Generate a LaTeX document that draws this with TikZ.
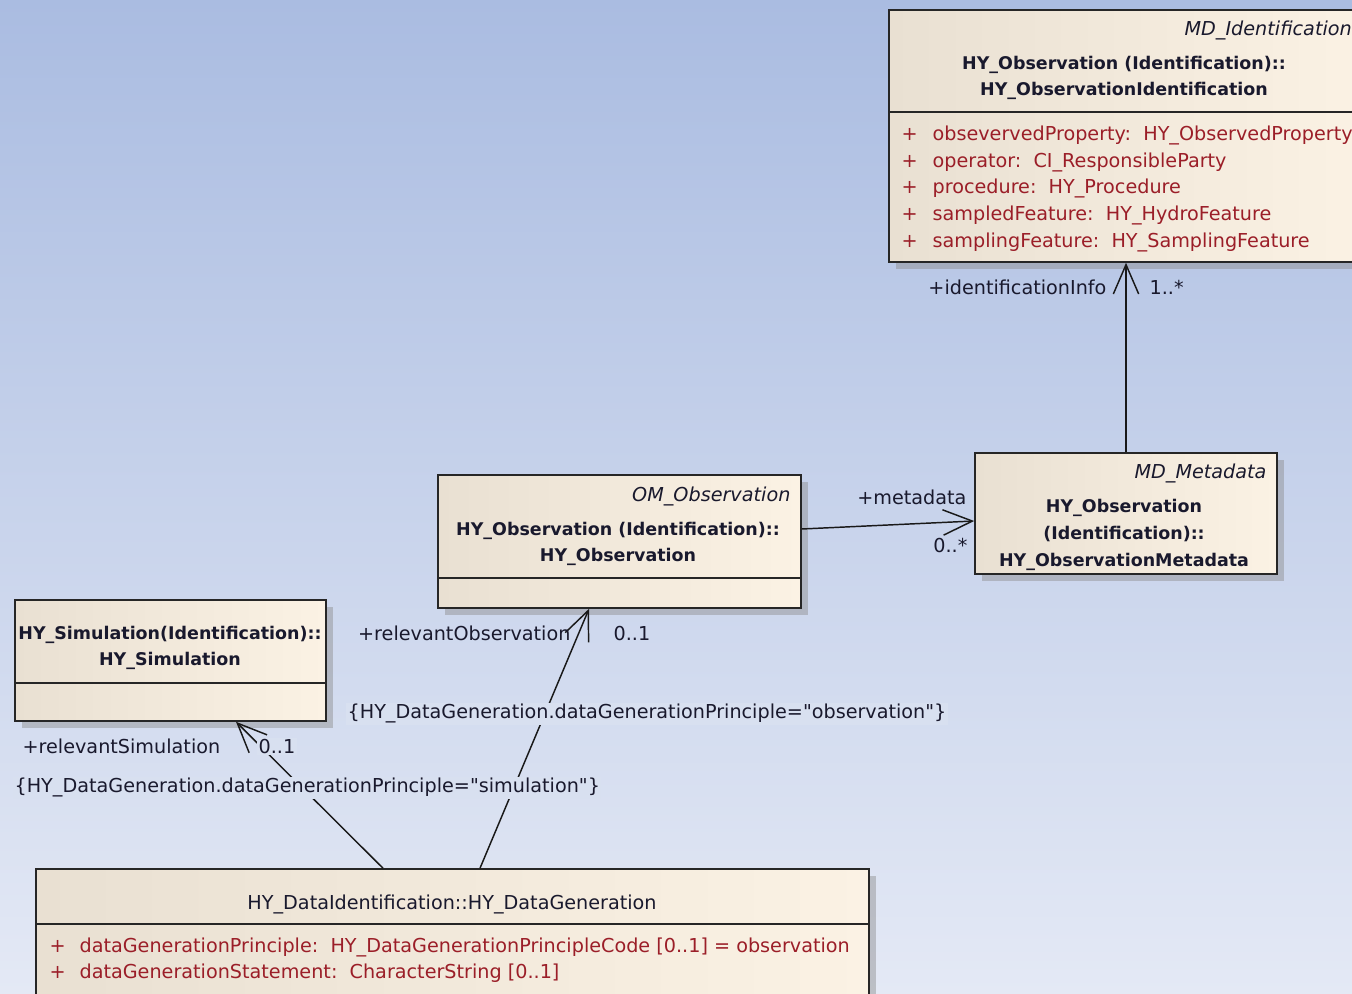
\documentclass[tikz,border=0pt]{standalone}
\usepackage{fontspec}
\setmainfont{DejaVu Sans}[Ligatures=TeXOff]
\usepackage{xcolor}
\usetikzlibrary{arrows.meta,shadows,fit,positioning}

\definecolor{bgtop}{RGB}{170,188,225}
\definecolor{bgbot}{RGB}{228,233,245}
\definecolor{bgmid}{RGB}{216,224,240}
\definecolor{boxleft}{RGB}{233,224,210}
\definecolor{boxright}{RGB}{251,242,228}
\definecolor{umltext}{RGB}{25,25,45}
\definecolor{umlattr}{RGB}{155,30,40}

\tikzset{
  classbox/.style={draw=black!85, line width=1.2pt, inner sep=0pt,
    left color=boxleft, right color=boxright,
    drop shadow={shadow xshift=5pt, shadow yshift=-5pt, fill=black!45, opacity=.45}},
  sep/.style={draw=black!85, line width=1.2pt},
  lbl/.style={font=\fontsize{14.4}{17}\selectfont, text=umltext, inner sep=1pt, yshift=-3pt},
  stereo/.style={lbl, font=\fontsize{14.4}{17}\selectfont\itshape},
  ttl/.style={font=\fontsize{13.1}{20}\selectfont\bfseries, text=umltext, align=center, yshift=-3pt},
  attr/.style={lbl, text=umlattr, anchor=mid west},
  cover/.style={fill=bgmid},
  assoc/.style={draw=black!90, line width=1.1pt, -{Straight Barb[length=22pt,width=19pt]}}
}

\begin{document}
\begin{tikzpicture}[x=0.75pt,y=-0.75pt]
% Hintergrund
\clip (0,0) rectangle (1352,994);
\shade[top color=bgtop, bottom color=bgbot] (0,0) rectangle (1352,994);

% Klassen
\node[classbox, fit={(889,10) (1365,262)}] (ident) {};
\node[classbox, fit={(438,475) (801,608)}] (obs) {};
\node[classbox, fit={(975,453) (1277,574)}] (meta) {};
\node[classbox, fit={(15,600) (326,721)}] (sim) {};
\node[classbox, fit={(36,869) (869,1010)}] (gen) {};

\draw[sep] (ident.west |- 0,112) -- (ident.east |- 0,112);
\draw[sep] (obs.west |- 0,578) -- (obs.east |- 0,578);
\draw[sep] (sim.west |- 0,683) -- (sim.east |- 0,683);
\draw[sep] (gen.west |- 0,924) -- (gen.east |- 0,924);

% Texte der Klassen
\node[stereo, anchor=mid west] (identst) at (1183,28) {MD\_Identification};
\node[ttl] (identt) at (1124,74) {HY\_Observation (Identification)::\\HY\_ObservationIdentification};
\foreach \y/\t in {133/{obsevervedProperty:~~HY\_ObservedProperty},
                   160/{operator:~~CI\_ResponsibleParty},
                   186/{procedure:~~HY\_Procedure},
                   213/{sampledFeature:~~HY\_HydroFeature},
                   240/{samplingFeature:~~HY\_SamplingFeature}}{
  \node[attr] at (900,\y) {+};
  \node[attr] at (931,\y) {\t};
}

\node[stereo, anchor=mid east] (obsst) at (792,494) {OM\_Observation};
\node[ttl] (obst) at (618,540) {HY\_Observation (Identification)::\\HY\_Observation};

\node[stereo, anchor=mid east] (metast) at (1268,471) {MD\_Metadata};
\node[ttl] (metat) at (1124,531) {HY\_Observation\\(Identification)::\\HY\_ObservationMetadata};

\node[ttl] (simt) at (170,644) {HY\_Simulation(Identification)::\\HY\_Simulation};

\node[lbl] (gent) at (452,900) {HY\_DataIdentification::HY\_DataGeneration};
\foreach \y/\t in {945/{dataGenerationPrinciple:~~HY\_DataGenerationPrincipleCode [0..1] = observation},
                   971/{dataGenerationStatement:~~CharacterString [0..1]}}{
  \node[attr] at (48,\y) {+};
  \node[attr] at (78,\y) {\t};
}

% Assoziationen
\draw[assoc] (meta.north) -- (meta.north |- ident.south);
\draw[assoc] (obs.east |- 0,529) -- (meta.west |- 0,521);
\draw[assoc] (gen.north -| 480,0) -- (obs.south -| 589,0);
\draw[assoc] (gen.north -| 383,0) -- (sim.south -| 236,0);

% Rollen
\node[lbl, anchor=mid east] (identrole) at (1108,287) {+identificationInfo};
\node[lbl, anchor=mid west] (identmult) at (1148,287) {1..*};
\node[lbl, anchor=mid east] (metarole) at (968,497) {+metadata};
\node[lbl, anchor=mid east] (metamult) at (969,545) {0..*};
\node[lbl, anchor=mid east] (obsrole) at (572,633) {+relevantObservation};
\node[lbl, anchor=mid west] (obsmult) at (612,633) {0..1};
\node[lbl, cover, anchor=mid west] (obscons) at (346,711) {\{HY\_DataGeneration.dataGenerationPrinciple="observation"\}};
\node[lbl, anchor=mid west] (simrole) at (21,746) {+relevantSimulation};
\node[lbl, cover, anchor=mid west] (simmult) at (257,746) {0..1};
\node[lbl, cover, anchor=mid west] (simcons) at (13,785) {\{HY\_DataGeneration.dataGenerationPrinciple="simulation"\}};
\end{tikzpicture}
\end{document}
